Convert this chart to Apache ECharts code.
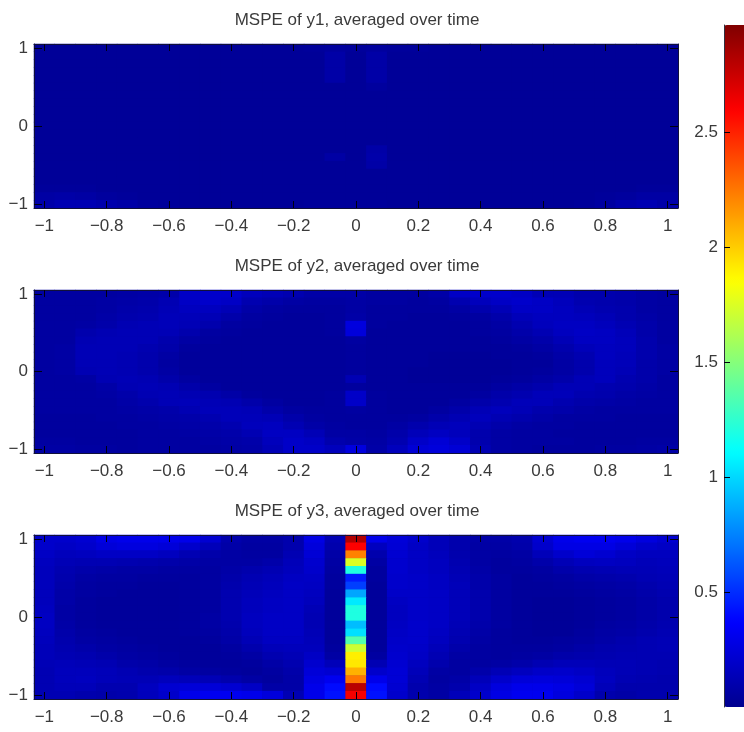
<!DOCTYPE html>
<html>
<head>
<meta charset="utf-8">
<style>
html,body{margin:0;padding:0;background:#fff;overflow:hidden}
#chart{width:744px;height:732px;filter:blur(0.45px)}
</style>
<script src="https://cdn.jsdelivr.net/npm/echarts@6/dist/echarts.min.js"></script>
</head>
<body>
<div id="chart"></div>
<script>
// x and y positions of the cells (only the ticked ones carry a label)
var xCategories = ['\u22121','','','\u22120.8','','','\u22120.6','','','\u22120.4','','','\u22120.2','','','0','','','0.2','','','0.4','','','0.6','','','0.8','','','1'];
var yCategories = ['\u22121','','','','','','','','','','0','','','','','','','','','','1'];
var titles = ['MSPE of y1, averaged over time','MSPE of y2, averaged over time','MSPE of y3, averaged over time'];
var colorbarTicks = [0.5, 1, 1.5, 2, 2.5];
var colorMin = 0, colorMax = 2.965;

// Values in hundredths; rows run from y = 1 (first) down to y = -1 (last)
var y1Rows = [
[3,3,3,3,3,3,3,3,3,3,3,3,3,4,5,4,5,4,4,3,3,3,3,3,3,3,3,3,3,3,3],
[3,3,3,3,3,3,3,3,3,3,3,3,3,3,8,3,8,3,3,3,3,3,3,3,3,3,3,3,3,3,3],
[3,3,3,3,3,3,3,3,3,3,3,3,3,3,8,3,8,3,3,3,3,3,3,3,3,3,3,3,3,3,3],
[3,3,3,3,3,3,3,3,3,3,3,3,3,3,8,3,8,3,3,3,3,3,3,3,3,3,3,3,3,3,3],
[3,3,3,3,3,3,3,3,3,3,3,3,3,3,8,3,8,3,3,3,3,3,3,3,3,3,3,3,3,3,3],
[3,3,3,3,3,3,3,3,3,3,3,3,3,3,3,3,5,3,3,3,3,3,3,3,3,3,3,3,3,3,3],
[3,3,3,3,3,3,3,3,3,3,3,3,3,3,3,3,3,3,3,3,3,3,3,3,3,3,3,3,3,3,3],
[3,3,3,3,3,3,3,3,3,3,3,3,3,3,3,3,3,3,3,3,3,3,3,3,3,3,3,3,3,3,3],
[3,3,3,3,3,3,3,3,3,3,3,3,3,3,3,3,3,3,3,3,3,3,3,3,3,3,3,3,3,3,3],
[3,3,3,3,3,3,3,3,3,3,3,3,3,3,3,3,3,3,3,3,3,3,3,3,3,3,3,3,3,3,3],
[3,3,3,3,3,3,3,3,3,3,3,3,3,3,3,3,3,3,3,3,3,3,3,3,3,3,3,3,3,3,3],
[3,3,3,3,3,3,3,3,3,3,3,3,3,3,3,3,3,3,3,3,3,3,3,3,3,3,3,3,3,3,3],
[3,3,3,3,3,3,3,3,3,3,3,3,3,3,3,3,3,3,3,3,3,3,3,3,3,3,3,3,3,3,3],
[3,3,3,3,3,3,3,3,3,3,3,3,3,3,3,3,8,3,3,3,3,3,3,3,3,3,3,3,3,3,3],
[3,3,3,3,3,3,3,3,3,3,3,3,3,3,7,3,9,3,3,3,3,3,3,3,3,3,3,3,3,3,3],
[3,3,3,3,3,3,3,3,3,3,3,3,3,3,3,3,8,3,3,3,3,3,3,3,3,3,3,3,3,3,3],
[3,3,3,3,3,3,3,3,3,3,3,3,3,3,3,3,3,3,3,3,3,3,3,3,3,3,3,3,3,3,3],
[3,3,3,3,3,3,3,3,3,3,3,3,3,3,3,3,3,3,3,3,3,3,3,3,3,3,3,3,3,3,3],
[4,4,4,3,3,3,3,3,3,3,3,3,3,3,3,3,3,3,3,3,3,3,3,3,3,3,3,3,3,4,4],
[7,8,7,5,4,3,3,3,3,3,3,3,3,3,3,3,3,3,3,3,3,3,3,3,3,3,3,4,5,7,7],
[9,12,12,10,8,5,4,3,3,3,3,3,3,4,4,4,4,3,3,3,3,3,3,3,3,3,4,6,10,12,9]
];
var y2Rows = [
[6,6,6,6,7,8,9,18,20,20,15,13,11,8,8,8,6,6,6,8,18,20,20,18,13,13,10,10,9,7,6],
[6,6,6,7,8,9,12,18,20,18,11,9,7,6,6,7,6,6,5,6,11,15,18,20,18,15,11,10,9,7,6],
[6,6,6,7,9,10,13,16,16,13,8,6,5,5,5,7,5,5,5,5,7,10,13,18,18,16,13,11,10,7,6],
[6,6,6,8,10,11,14,14,13,9,6,5,4,4,5,8,5,5,4,4,5,6,9,14,16,16,15,13,10,8,6],
[6,6,7,9,12,13,14,13,10,6,5,4,4,4,5,26,5,4,4,4,4,5,7,11,15,17,17,15,12,9,6],
[6,6,10,12,13,13,13,10,6,5,4,4,4,4,5,25,4,4,4,4,4,5,6,9,12,16,18,17,14,9,6],
[6,6,12,13,13,13,10,7,5,4,4,4,4,4,4,6,4,4,4,4,4,4,5,7,9,13,17,17,15,10,6],
[6,7,13,13,13,11,9,5,4,4,4,4,4,4,4,5,4,4,4,4,4,4,4,5,7,10,14,16,15,10,7],
[6,7,13,13,12,10,7,4,4,4,4,4,4,4,4,5,4,4,4,3,3,3,4,4,5,8,11,16,14,10,7],
[6,7,13,13,12,10,6,4,4,4,4,4,4,4,4,5,4,4,4,3,3,3,3,4,4,7,10,15,14,9,7],
[6,7,12,13,12,10,7,4,4,4,4,4,4,4,4,5,4,4,3,3,3,3,3,4,5,7,10,15,13,9,7],
[6,6,7,12,13,12,9,6,4,4,4,4,4,4,4,12,4,4,3,3,3,3,4,5,7,9,13,15,11,9,6],
[6,6,6,8,12,13,12,9,6,4,4,4,4,4,4,5,4,4,4,4,4,4,6,8,10,13,13,11,10,8,6],
[6,6,6,7,9,12,13,12,11,8,5,4,4,4,5,19,5,4,4,4,4,6,9,11,14,14,11,10,8,7,6],
[6,6,6,6,8,10,13,14,13,12,9,6,4,4,5,19,5,4,4,4,6,9,11,14,14,11,9,8,7,6,6],
[6,6,6,6,7,8,9,12,14,14,13,9,6,5,5,6,5,4,4,6,9,13,15,13,10,9,7,6,6,6,6],
[5,5,5,6,6,7,8,9,11,14,14,13,9,6,5,5,5,5,6,9,12,15,12,10,8,6,6,6,5,5,5],
[5,5,5,5,6,6,7,8,9,11,15,16,12,8,6,5,5,7,10,13,15,12,9,7,6,6,5,5,5,5,5],
[5,5,5,5,5,6,6,7,8,9,12,17,17,13,7,7,6,9,14,17,15,10,7,6,6,5,5,5,5,5,5],
[6,6,5,5,5,6,6,6,7,8,9,15,19,17,10,8,7,11,19,23,19,10,7,6,6,6,5,5,5,6,6],
[7,7,6,6,5,6,6,6,6,7,8,13,19,19,15,26,8,15,23,25,23,12,7,6,5,5,5,6,6,7,8]
];
var y3Rows = [
[20,20,22,28,30,30,30,30,22,10,7,7,10,28,12,282,30,24,20,14,10,8,8,10,22,30,32,32,30,26,22],
[20,18,20,24,26,26,24,20,14,8,6,6,10,25,10,260,16,23,18,14,10,7,7,9,20,28,28,28,24,20,18],
[18,15,16,18,18,18,16,12,9,7,6,6,12,23,8,222,10,22,18,15,10,7,6,7,14,20,24,22,18,16,16],
[16,13,12,12,11,10,9,8,7,7,7,9,14,21,7,175,7,21,18,16,11,7,5,6,9,13,16,17,16,14,15],
[15,11,9,8,7,7,6,6,6,8,10,12,15,20,6,120,5,21,18,16,12,8,5,5,6,9,11,12,13,13,14],
[15,10,7,6,6,5,5,5,6,9,12,14,17,18,5,45,5,20,19,17,13,9,6,4,5,6,8,9,10,12,13],
[15,9,6,5,5,4,4,5,6,10,13,15,18,17,5,55,4,20,19,17,14,9,6,4,4,5,6,7,8,10,12],
[15,8,6,5,4,4,4,5,6,11,14,16,18,16,4,85,4,19,19,18,14,10,6,4,4,4,5,6,7,9,11],
[15,8,5,4,4,4,4,5,6,11,15,17,18,15,4,105,4,17,19,18,14,10,6,4,3,3,4,5,6,8,10],
[16,7,5,4,4,4,4,5,6,11,15,17,18,13,4,120,4,16,19,18,14,10,6,4,3,3,4,5,6,8,10],
[17,7,5,4,4,4,4,5,7,11,16,18,18,12,4,120,4,16,19,18,14,10,6,4,3,3,4,5,6,8,10],
[17,8,5,4,4,4,4,5,7,10,16,18,18,12,4,92,4,17,20,18,13,9,6,4,3,3,4,6,7,9,11],
[16,9,6,5,4,4,4,5,6,9,15,18,18,13,4,102,4,18,20,17,12,8,5,4,3,3,5,7,8,10,12],
[15,10,7,6,5,4,4,4,5,8,13,17,17,14,4,135,4,19,20,16,11,7,5,4,4,5,6,8,10,12,13],
[14,11,9,7,6,5,4,4,4,6,10,14,15,15,5,170,4,20,19,14,9,6,5,5,5,6,8,10,11,12,13],
[14,12,11,9,7,6,5,4,4,5,7,11,13,18,7,190,6,21,18,12,7,6,5,6,7,9,10,11,12,12,12],
[13,14,13,12,9,8,6,5,4,4,5,8,11,21,14,192,12,22,16,10,6,6,7,9,12,14,14,13,13,12,11],
[12,15,15,14,12,10,9,7,6,5,4,6,9,24,22,208,20,23,14,7,6,9,13,16,19,20,18,15,13,12,11],
[12,15,16,14,13,13,15,14,13,10,7,5,8,27,32,225,30,23,12,6,8,14,20,24,25,24,22,16,12,11,10],
[12,14,14,11,11,16,22,24,24,22,18,8,8,30,40,280,40,22,10,7,10,18,26,30,30,28,24,14,10,10,10],
[12,12,10,9,10,15,20,30,32,32,30,25,12,30,42,262,42,20,10,7,14,20,28,32,32,26,20,10,8,10,10]
];
var panels = [y1Rows, y2Rows, y3Rows];

// Layout (pixels)
var panelTops = [44, 290, 535];
var panelHeights = [164, 163, 164];
var titleTops = [12, 258, 503];
var plotLeft = 34, plotWidth = 644;
var textColor = '#3a3a3a', lineColor = '#10103a', font = '"Liberation Sans", sans-serif';
var textSize = 17;

function toCells(rows) {
  var cells = [];
  rows.forEach(function (row, i) {
    row.forEach(function (v, j) { cells.push([j, rows.length - 1 - i, v / 100]); });
  });
  return cells;
}
function catAxis(kind, data, gridIndex, position, labelled) {
  var every = kind === 'x' ? 2 : 9;
  return {
    type: 'category', data: data, gridIndex: gridIndex, position: position, z: 5,
    axisLine: { show: true, onZero: false, lineStyle: { color: lineColor, width: 1 } },
    axisTick: { show: true, inside: true, alignWithLabel: true, interval: every, length: kind === 'x' ? 7 : 8,
                lineStyle: { color: '#000010', width: 1 } },
    axisLabel: { show: labelled, interval: every, color: textColor, fontFamily: font, fontSize: textSize,
                 margin: kind === 'x' ? 10 : 6 },
    splitLine: { show: false }, splitArea: { show: false }
  };
}

var grids = [], xAxes = [], yAxes = [], series = [], titleOpts = [];
panels.forEach(function (rows, p) {
  grids.push({ show: true, backgroundColor: '#000096', borderWidth: 0,
               left: plotLeft, width: plotWidth, top: panelTops[p], height: panelHeights[p] });
  xAxes.push(catAxis('x', xCategories, p, 'bottom', true));
  xAxes.push(catAxis('x', xCategories, p, 'top', false));
  yAxes.push(catAxis('y', yCategories, p, 'left', true));
  yAxes.push(catAxis('y', yCategories, p, 'right', false));
  series.push({ type: 'heatmap', xAxisIndex: p * 2, yAxisIndex: p * 2, data: toCells(rows),
                progressive: 0, animation: false, itemStyle: { borderWidth: 0 } });
  titleOpts.push({ text: titles[p], left: 357, top: titleTops[p], textAlign: 'center', padding: 0,
                   textStyle: { color: textColor, fontFamily: font, fontSize: textSize, fontWeight: 'normal' } });
});

// Colour bar: the visualMap draws the ramp, a value axis carries its ticks
grids.push({ left: 724, width: 40, top: 25, height: 682 });
xAxes.push({ type: 'value', gridIndex: 3, show: false, min: 0, max: 1 });
yAxes.push({
  type: 'value', gridIndex: 3, position: 'left', min: colorMin, max: colorMax, z: 5,
  axisLine: { show: true, lineStyle: { color: '#303040', width: 1 } },
  axisTick: { show: true, inside: true, length: 6, customValues: colorbarTicks, lineStyle: { color: '#000010' } },
  axisLabel: { show: true, customValues: colorbarTicks, color: textColor, fontFamily: font, fontSize: textSize, margin: 6,
               formatter: function (v) { return String(v); } },
  splitLine: { show: false }
});

var chart = echarts.init(document.getElementById('chart'), null, { renderer: 'canvas' });
chart.setOption({
  animation: false,
  backgroundColor: '#ffffff',
  tooltip: { show: false },
  title: titleOpts,
  grid: grids,
  xAxis: xAxes,
  yAxis: yAxes,
  visualMap: {
    type: 'continuous', min: colorMin, max: colorMax, seriesIndex: [0, 1, 2],
    left: 724, top: 25, itemWidth: 40, itemHeight: 682, padding: 0, z: 4,
    calculable: false, hoverLink: false, showLabel: false,
    inRange: { color: ['#00008f','#0000ff','#0080ff','#00ffff','#80ff80','#ffff00','#ff8000','#ff0000','#800000'] }
  },
  series: series
});
</script>
</body>
</html>
